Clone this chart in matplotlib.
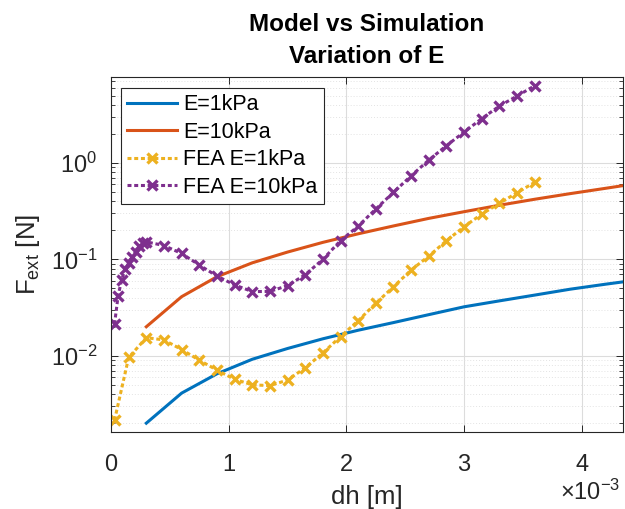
import numpy as np
import matplotlib
matplotlib.use("Agg")
import matplotlib.pyplot as plt
from matplotlib.ticker import FixedLocator, FuncFormatter, LogLocator, NullFormatter

plt.rcParams['font.family'] = ['Liberation Sans', 'DejaVu Sans']
plt.rcParams['mathtext.fontset'] = 'custom'
plt.rcParams['mathtext.rm'] = 'Liberation Sans'
plt.rcParams['mathtext.it'] = 'Liberation Sans:italic'
plt.rcParams['mathtext.bf'] = 'Liberation Sans:bold'
plt.rcParams['axes.unicode_minus'] = False

# ---- data (dh in units of 1e-3 m, force in N) ----
model_dh_mm = [0.3, 0.6, 0.9, 1.2, 1.5, 1.8, 2.1, 2.4, 2.7, 3.0, 3.3, 3.6, 3.9, 4.2, 4.5]
model_E1 = [0.0020, 0.0041, 0.0065, 0.0092, 0.0119, 0.0150, 0.0184, 0.0221, 0.0267,
            0.0322, 0.0371, 0.0426, 0.0490, 0.0552, 0.0618]
model_E10 = [0.020, 0.041, 0.066, 0.092, 0.119, 0.150, 0.184, 0.222, 0.266,
             0.312, 0.364, 0.420, 0.480, 0.545, 0.620]

fea1_dh_mm = [0.03, 0.15, 0.30, 0.45, 0.60, 0.75, 0.90, 1.05, 1.20, 1.35, 1.50, 1.65,
              1.80, 1.95, 2.10, 2.25, 2.40, 2.55, 2.70, 2.85, 3.00, 3.15, 3.30, 3.45, 3.60]
fea_E1 = [0.00215, 0.0096, 0.0154, 0.0146, 0.0116, 0.0090, 0.0071, 0.0057, 0.0050,
          0.0049, 0.0056, 0.0075, 0.0107, 0.0158, 0.0231, 0.0350, 0.0520, 0.0775,
          0.108, 0.156, 0.218, 0.295, 0.381, 0.491, 0.629]

fea10_dh_mm = [0.03, 0.06, 0.09, 0.12, 0.15, 0.18, 0.21, 0.24, 0.27, 0.30,
               0.45, 0.60, 0.75, 0.90, 1.05, 1.20, 1.35, 1.50, 1.65, 1.80, 1.95,
               2.10, 2.25, 2.40, 2.55, 2.70, 2.85, 3.00, 3.15, 3.30, 3.45, 3.60]
fea_E10 = [0.0213, 0.0416, 0.061, 0.0787, 0.091, 0.106, 0.120, 0.137, 0.147, 0.152,
           0.139, 0.115, 0.0873, 0.0671, 0.0543, 0.0463, 0.0465, 0.0534, 0.0692,
           0.100, 0.156, 0.221, 0.333, 0.495, 0.736, 1.07, 1.51, 2.09, 2.88,
           3.89, 4.94, 6.32]

labels = ['E=1kPa', 'E=10kPa', 'FEA E=1kPa', 'FEA E=10kPa']
colors = ['#0072BD', '#D95319', '#EDB120', '#7E2F8E']
x_ticks_mm = [0, 1, 2, 3, 4]

scale = 1e-3
fig = plt.figure(figsize=(6.25, 5.09), dpi=100)
ax = fig.add_axes([111/625, 1 - 432/509, (623 - 111)/625, (432 - 77)/509])

ax.plot(np.array(model_dh_mm) * scale, model_E1, color=colors[0], lw=2.2, label=labels[0])
ax.plot(np.array(model_dh_mm) * scale, model_E10, color=colors[1], lw=2.2, label=labels[1])
ax.plot(np.array(fea1_dh_mm) * scale, fea_E1, color=colors[2], lw=2.2, ls=(0, (1.3, 0.9)),
        marker='x', ms=6.5, mew=2.4, label=labels[2])
ax.plot(np.array(fea10_dh_mm) * scale, fea_E10, color=colors[3], lw=2.2, ls=(0, (1.3, 0.9)),
        marker='x', ms=6.5, mew=2.4, label=labels[3])

ax.set_yscale('log')
ax.set_xlim(0, 4.35e-3)
ax.set_ylim(0.00162, 7.78)

ax.xaxis.set_major_locator(FixedLocator([t * scale for t in x_ticks_mm]))
ax.xaxis.set_major_formatter(FuncFormatter(lambda v, p: f"{v/scale:.0f}"))
ax.yaxis.set_major_locator(LogLocator(base=10, numticks=10))
ax.yaxis.set_minor_locator(LogLocator(base=10, subs=np.arange(2, 10), numticks=10))
ax.yaxis.set_minor_formatter(NullFormatter())

tc = '#262626'
ax.tick_params(axis='both', which='both', direction='in', top=True, right=True,
               colors=tc, labelsize=17)
ax.tick_params(axis='x', which='major', length=5, width=0.7, pad=16)
ax.tick_params(axis='y', which='major', length=5, width=0.7, pad=10)
ax.tick_params(axis='y', which='minor', length=3, width=0.6)
for s in ax.spines.values():
    s.set_color(tc)
    s.set_linewidth(0.8)

ax.grid(True, which='major', color='#dcdcdc', lw=0.8, ls='-')
ax.grid(True, which='minor', axis='y', color='#e3e3e3', lw=0.7, ls=(0, (1, 2)))
ax.set_axisbelow(True)

ax.set_xlabel('dh [m]', fontsize=18.5, color=tc, labelpad=6)
ax.set_ylabel(r'F$_{\mathrm{ext}}$ [N]', fontsize=18.5, color=tc, labelpad=6)
ax.set_title('Model vs Simulation\nVariation of E', fontsize=17.5, fontweight='bold',
             color='black', pad=10, linespacing=1.48)

fig.text(590/625, 1 - 492/509, r'$\times$10$^{-3}$', fontsize=17, color=tc,
         ha='center', va='center')

leg = ax.legend(loc='upper left', bbox_to_anchor=(0.0195, 0.969), borderaxespad=0,
                fontsize=15.5, frameon=True, fancybox=False, framealpha=1,
                edgecolor=tc, handlelength=2.3, handletextpad=0.3, labelspacing=0.3,
                borderpad=0.3)
leg.get_frame().set_linewidth(0.8)
for t in leg.get_texts():
    t.set_color('black')

fig.savefig('out.png', dpi=100)
